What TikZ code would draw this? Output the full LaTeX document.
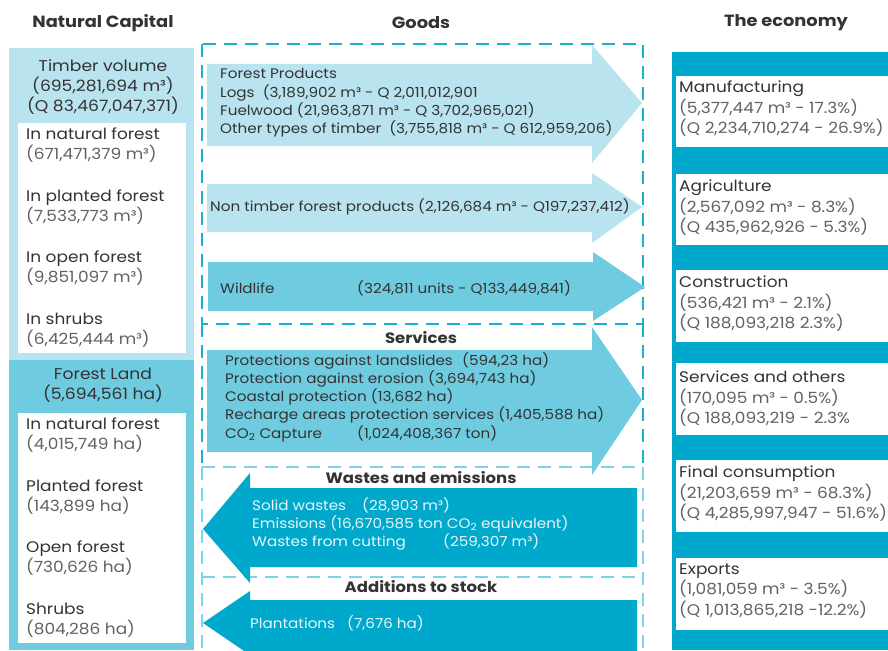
\documentclass[tikz,border=0pt]{standalone}
\usepackage{fontspec}
\setmainfont{Poppins}[FakeStretch=1.1]
\usetikzlibrary{calc}

\definecolor{paleblue}{HTML}{B9E3EF}
\definecolor{midblue}{HTML}{6FCCE0}
\definecolor{deepblue}{HTML}{00A9CB}
\definecolor{dashblue}{HTML}{1AB0D2}
\definecolor{dashpale}{HTML}{7ED3E6}
\definecolor{inkdark}{HTML}{333333}
\definecolor{inkgrey}{HTML}{626262}
\definecolor{inklight}{HTML}{E6F6FA}

\newcommand{\gr}[1]{{\color{inkgrey}#1}}

\tikzset{
	coltitle/.style={font=\bfseries\fontsize{16.2}{18}\selectfont, text=inkdark, inner sep=0pt},
	bandtitle/.style={font=\bfseries\fontsize{15}{18}\selectfont, text=inkdark, inner sep=0pt},
	hdr/.style={font=\fontsize{15.6}{20}\selectfont, text=inkdark, inner sep=0pt, align=center},
	item/.style={font=\fontsize{15.4}{20.5}\selectfont, text=inkdark, inner sep=0pt, align=left, anchor=west},
	flowtxt/.style={font=\fontsize{13.8}{18.3}\selectfont, text=inkdark, inner sep=0pt, align=left, anchor=west},
	backtxt/.style={flowtxt, text=inklight},
	dashbox/.style={draw=dashblue, line width=1.6pt, dash pattern=on 13pt off 8pt},
	dashlite/.style={draw=dashpale, line width=1.6pt, dash pattern=on 13pt off 8pt},
}

\begin{document}
\begin{tikzpicture}[x=1pt,y=-1pt]
	\useasboundingbox (0,0) rectangle (888,650);
	\fill[white] (0,0) rectangle (888,650);

	%titles
	\node[coltitle] (natcap)  at (103,23)  {Natural Capital};
	\node[coltitle] (goods)   at (421,23)  {Goods};
	\node[coltitle] (economy) at (786,23)  {The economy};

	%natural capital column
	\fill[paleblue] (9,48) rectangle (194,360);
	\fill[midblue]  (9,360) rectangle (194,650);
	\fill[white] (18,123) rectangle (186,353);
	\fill[white] (18,413) rectangle (186,643);

	\node[hdr] (timber) at (103,87) {Timber volume\\(695,281,694 m³)\\(Q 83,467,047,371)};
	\node[item] (tnat)   at (26,145) {In natural forest\\\gr{(671,471,379 m³)}};
	\node[item] (tplant) at (26,207) {In planted forest\\\gr{(7,533,773 m³)}};
	\node[item] (topen)  at (26,268) {In open forest\\\gr{(9,851,097 m³)}};
	\node[item] (tshrub) at (26,330) {In shrubs\\\gr{(6,425,444 m³)}};

	\node[hdr] (land) at (103,385) {Forest Land\\(5,694,561 ha)};
	\node[item] (lnat)   at (26,435) {In natural forest\\\gr{(4,015,749 ha)}};
	\node[item] (lplant) at (26,497) {Planted forest\\\gr{(143,899 ha)}};
	\node[item] (lopen)  at (26,558) {Open forest\\\gr{(730,626 ha)}};
	\node[item] (lshrub) at (26,620) {Shrubs\\\gr{(804,286 ha)}};

	%dashed frames
	\draw[dashlite] (202,467) -- (643,467);
	\draw[dashlite] (202,467) -- (202,650);
	\draw[dashlite] (643,467) -- (643,650);
	\draw[dashlite] (202,577) -- (643,577);
	\draw[dashbox] (202,324) -- (202,467);
	\draw[dashbox] (643,324) -- (643,467);
	\draw[dashbox] (202,44) rectangle (643,324);

	%goods arrows
	\fill[paleblue] (207,64) -- (592,64) -- (592,45) -- (642,103) -- (592,163) -- (592,146) -- (207,146) -- cycle;
	\fill[paleblue] (207,184) -- (592,184) -- (592,173) -- (642,207) -- (592,243) -- (592,232) -- (207,232) -- cycle;
	\fill[midblue]  (208,262) -- (593,262) -- (593,252) -- (645,287) -- (593,321) -- (593,311) -- (208,311) -- cycle;

	\node[flowtxt] (forprod) at (220,103) {Forest Products\\Logs~~(3,189,902 m³ - Q 2,011,012,901\\Fuelwood (21,963,871 m³ - Q 3,702,965,021)\\Other types of timber~~(3,755,818 m³ - Q 612,959,206)};
	\node[flowtxt] (ntfp) at (210,207) {Non timber forest products (2,126,684 m³ - Q197,237,412)};
	\node[flowtxt] (wild) at (220,288) {\makebox[137pt][l]{Wildlife}(324,811 units - Q133,449,841)};

	%services
	\node[bandtitle] (servt) at (421,338) {Services};
	\fill[midblue] (207,350) -- (592,350) -- (592,327) -- (642,400) -- (592,475) -- (592,452) -- (207,452) -- cycle;
	\node[flowtxt] (serv) at (225,397) {\makebox[237pt][l]{Protections against landslides}(594,23 ha)\\\makebox[203pt][l]{Protection against erosion}(3,694,743 ha)\\Coastal protection (13,682 ha)\\Recharge areas protection services (1,405,588 ha)\\\makebox[132pt][l]{CO\textsubscript{2} Capture}(1,024,408,367 ton)};

	%wastes and emissions
	\node[bandtitle] (wastet) at (421,478) {Wastes and emissions};
	\fill[deepblue] (637,488) -- (250,488) -- (250,473) -- (203,529) -- (250,583) -- (250,567) -- (637,567) -- cycle;
	\node[backtxt] (waste) at (252,524) {\makebox[110pt][l]{Solid wastes}(28,903 m³)\\Emissions (16,670,585 ton CO\textsubscript{2} equivalent)\\\makebox[191pt][l]{Wastes from cutting}(259,307 m³)};

	%additions to stock
	\node[bandtitle] (addt) at (421,587) {Additions to stock};
	\fill[deepblue] (637,600) -- (250,600) -- (250,591) -- (203,623) -- (250,655) -- (250,660) -- (637,660) -- cycle;
	\node[backtxt] (plant) at (250,623) {\makebox[97pt][l]{Plantations}(7,676 ha)};

	%economy column
	\fill[deepblue] (672,52) rectangle (888,650);
	\fill[white] (676,76)  rectangle (888,147);
	\fill[white] (676,174) rectangle (888,245);
	\fill[white] (676,270) rectangle (888,342);
	\fill[white] (676,363) rectangle (888,435);
	\fill[white] (676,460) rectangle (888,532);
	\fill[white] (676,558) rectangle (888,630);

	\node[item] (manuf)  at (679,109) {Manufacturing\\\gr{(5,377,447 m³ - 17.3\%)}\\\gr{(Q 2,234,710,274 - 26.9\%)}};
	\node[item] (agri)   at (679,208) {Agriculture\\\gr{(2,567,092 m³ - 8.3\%)}\\\gr{(Q 435,962,926 - 5.3\%)}};
	\node[item] (constr) at (679,304) {Construction\\\gr{(536,421 m³ - 2.1\%)}\\\gr{(Q 188,093,218 2.3\%)}};
	\node[item] (servo)  at (679,399) {Services and others\\\gr{(170,095 m³ - 0.5\%)}\\\gr{(Q 188,093,219 - 2.3\%}};
	\node[item] (final)  at (679,494) {Final consumption\\\gr{(21,203,659 m³ - 68.3\%)}\\\gr{(Q 4,285,997,947 - 51.6\%)}};
	\node[item] (export) at (679,591) {Exports\\\gr{(1,081,059 m³ - 3.5\%)}\\\gr{(Q 1,013,865,218 -12.2\%)}};
\end{tikzpicture}
\end{document}
